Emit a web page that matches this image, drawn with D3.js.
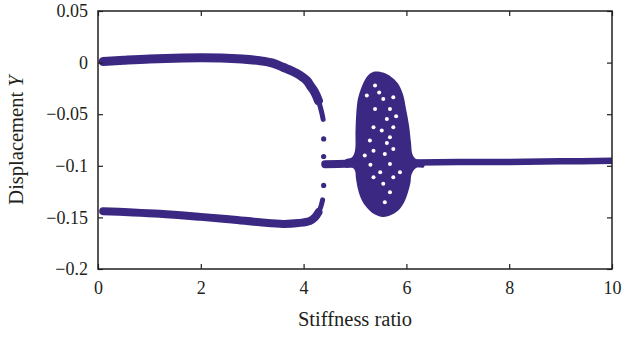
<!DOCTYPE html>
<html>
<head>
<meta charset="utf-8">
<script src="https://cdn.jsdelivr.net/npm/d3@7"></script>
<style>
  html, body { margin: 0; padding: 0; background: #fff; }
  svg { display: block; }
  .tick text { font-family: "Liberation Serif", "DejaVu Serif", serif; font-size: 18px; fill: #231f20; }
  .tick line { stroke: #231f20; stroke-width: 1.2; }
</style>
</head>
<body>
<svg id="chart" width="622" height="337"></svg>
<script>
// Axis ticks
const xTicks = [0, 2, 4, 6, 8, 10];
const xTickLabels = ["0", "2", "4", "6", "8", "10"];
const yTicks = [0.05, 0, -0.05, -0.1, -0.15, -0.2];
const yTickLabels = ["0.05", "0", "\u22120.05", "\u22120.1", "\u22120.15", "\u22120.2"];

// Upper period-2 branch (stiffness ratio vs displacement)
const upperX = [0.1, 0.5, 1.0, 1.65, 2.0, 2.4, 2.8, 3.15, 3.4, 3.6, 3.85, 4.06, 4.14, 4.22, 4.29];
const upperY = [0.001, 0.0022, 0.0035, 0.0045, 0.0047, 0.0045, 0.0035, 0.0018, -0.0005, -0.0045, -0.010, -0.0174, -0.023, -0.029, -0.037];
// Thin tail of the upper branch before the jump
const upperTailX = [4.22, 4.29, 4.33, 4.36, 4.38];
const upperTailY = [-0.029, -0.037, -0.044, -0.050, -0.055];

// Lower period-2 branch
const lowerX = [0.1, 0.6, 1.2, 2.0, 2.6, 3.15, 3.6, 3.9, 4.12, 4.22, 4.29];
const lowerY = [-0.1440, -0.1450, -0.1465, -0.1495, -0.1520, -0.1547, -0.1563, -0.1555, -0.1535, -0.1500, -0.1450];
const lowerTailX = [4.22, 4.29, 4.34, 4.37];
const lowerTailY = [-0.1500, -0.1450, -0.1390, -0.1330];

// Isolated transient points at the jump
const jumpX = [4.39, 4.39, 4.39];
const jumpY = [-0.074, -0.091, -0.119];

// Period-1 branch after the jump
const steadyX = [4.42, 4.8, 5.5, 6.2, 7.0, 8.0, 9.0, 10.0];
const steadyY = [-0.0985, -0.0980, -0.0975, -0.0968, -0.0964, -0.0962, -0.0957, -0.0952];

// Outline of the chaotic band (closed, clockwise from the left junction)
const chaosX = [4.805, 4.942, 5.000, 5.010, 5.029, 5.058, 5.117, 5.195, 5.282, 5.389, 5.545, 5.700, 5.837, 5.934, 5.992, 6.051, 6.089, 6.119, 6.187, 6.342,
                6.342, 6.187, 6.099, 6.080, 6.041, 5.973, 5.875, 5.720, 5.545, 5.370, 5.228, 5.136, 5.064, 5.019, 5.000, 4.942, 4.805];
const chaosY = [-0.0943, -0.0916, -0.0853, -0.0659, -0.0465, -0.0349, -0.0252, -0.0165, -0.0111, -0.0087, -0.0097, -0.0136, -0.0203, -0.0310, -0.0446, -0.0610, -0.0775, -0.0891, -0.0935, -0.0954,
                -0.1013, -0.1022, -0.1085, -0.1163, -0.1240, -0.1337, -0.1415, -0.1473, -0.1497, -0.1468, -0.1405, -0.1337, -0.1240, -0.1124, -0.1047, -0.1017, -0.1013];

// Unvisited gaps inside the chaotic band
const gapX = [5.55, 5.745, 5.39, 5.68, 5.36, 5.52, 5.745, 5.62, 5.23, 5.39, 5.29, 5.68, 5.58, 5.36, 5.745, 5.19, 5.68, 5.49, 5.36, 5.745, 5.55, 5.68, 5.58, 5.875, 5.47, 5.80, 5.30, 5.62];
const gapY = [-0.0352, -0.0336, -0.0449, -0.0449, -0.0627, -0.0659, -0.0627, -0.0546, -0.0320, -0.0223, -0.0756, -0.0724, -0.0885, -0.0853, -0.0836, -0.0901, -0.0982, -0.1063, -0.1111, -0.1111, -0.1175, -0.1257, -0.1354, -0.1063, -0.0290, -0.0520, -0.0990, -0.0780];

const W = 622, H = 337;
const margin = { top: 11, right: 10, bottom: 68, left: 98 };
const iw = W - margin.left - margin.right;
const ih = H - margin.top - margin.bottom;
const ink = "#231f20";
const markColor = "#3b2883";

const svg = d3.select("#chart");
const g = svg.append("g").attr("transform", `translate(${margin.left},${margin.top})`);

const x = d3.scaleLinear().domain([0, 10]).range([0, iw]);
const y = d3.scaleLinear().domain([-0.2, 0.05]).range([ih, 0]);

g.append("clipPath").attr("id", "plotClip")
  .append("rect").attr("width", iw).attr("height", ih);

const plot = g.append("g").attr("clip-path", "url(#plotClip)");

const zipXY = (xs, ys) => xs.map((v, i) => [v, ys[i]]);
const line = d3.line().x(d => x(d[0])).y(d => y(d[1])).curve(d3.curveCatmullRom.alpha(0.5));

function band(xs, ys, width) {
  plot.append("path")
    .attr("d", line(zipXY(xs, ys)))
    .attr("fill", "none")
    .attr("stroke", markColor)
    .attr("stroke-width", width)
    .attr("stroke-linecap", "round")
    .attr("stroke-linejoin", "round");
}

band(upperX, upperY, 9);
band(upperTailX, upperTailY, 5);
band(lowerX, lowerY, 8);
band(lowerTailX, lowerTailY, 5);
band(steadyX.slice(0, 3), steadyY.slice(0, 3), 8);
band(steadyX.slice(2), steadyY.slice(2), 6.5);

plot.selectAll("circle.jump")
  .data(zipXY(jumpX, jumpY))
  .join("circle")
  .attr("class", "jump")
  .attr("cx", d => x(d[0]))
  .attr("cy", d => y(d[1]))
  .attr("r", 2.6)
  .attr("fill", markColor);

// Chaotic region
const closed = d3.line().x(d => x(d[0])).y(d => y(d[1])).curve(d3.curveCatmullRomClosed.alpha(0.5));
plot.append("path")
  .attr("d", closed(zipXY(chaosX, chaosY)))
  .attr("fill", markColor);

plot.selectAll("circle.gap")
  .data(zipXY(gapX, gapY))
  .join("circle")
  .attr("class", "gap")
  .attr("cx", d => x(d[0]))
  .attr("cy", d => y(d[1]))
  .attr("r", 2)
  .attr("fill", "#fff");

// Axes (ticks point inward on all four sides)
const xAxis = d3.axisBottom(x).tickValues(xTicks).tickFormat((d, i) => xTickLabels[i])
  .tickSizeInner(-5).tickSizeOuter(0).tickPadding(12);
const yAxis = d3.axisLeft(y).tickValues(yTicks).tickFormat((d, i) => yTickLabels[i])
  .tickSizeInner(-5).tickSizeOuter(0).tickPadding(10);

g.append("g").attr("transform", `translate(0,${ih})`).call(xAxis);
g.append("g").call(yAxis);
g.append("g").call(d3.axisTop(x).tickValues(xTicks).tickFormat("").tickSizeInner(-5).tickSizeOuter(0));
g.append("g").attr("transform", `translate(${iw},0)`)
  .call(d3.axisRight(y).tickValues(yTicks).tickFormat("").tickSizeInner(-5).tickSizeOuter(0));
g.selectAll(".domain").remove();

g.append("rect")
  .attr("width", iw).attr("height", ih)
  .attr("fill", "none").attr("stroke", ink).attr("stroke-width", 1.5);

// Axis titles
svg.append("text")
  .attr("x", margin.left + iw / 2).attr("y", 326)
  .attr("text-anchor", "middle")
  .style("font-family", '"Liberation Serif", "DejaVu Serif", serif')
  .style("font-size", "20.5px").style("fill", ink)
  .text("Stiffness ratio");

const yt = svg.append("text")
  .attr("transform", `translate(23,${margin.top + ih / 2}) rotate(-90)`)
  .attr("text-anchor", "middle")
  .style("font-family", '"Liberation Serif", "DejaVu Serif", serif')
  .style("font-size", "20.5px").style("fill", ink);
yt.append("tspan").text("Displacement ");
yt.append("tspan").style("font-style", "italic").text("Y");
</script>
</body>
</html>
